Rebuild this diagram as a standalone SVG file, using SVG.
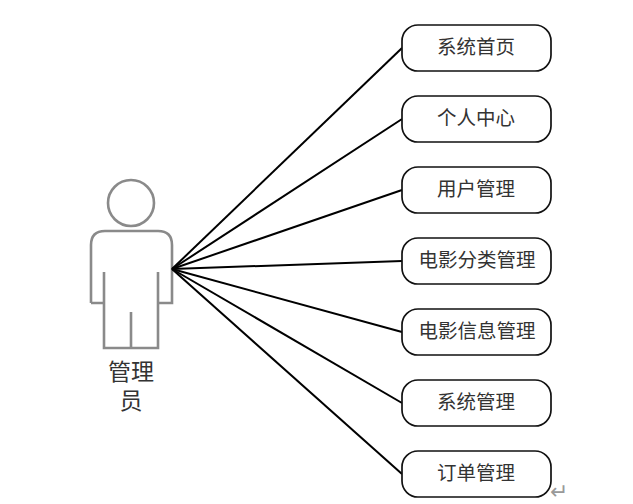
<svg xmlns="http://www.w3.org/2000/svg" width="633" height="504" viewBox="0 0 633 504">
<style>
.n rect{fill:#fff;stroke:#111;stroke-width:1.7}
.n text{font-family:"Liberation Serif","Noto Sans CJK SC",serif;font-size:19.5px;fill:#333;text-anchor:middle}
#connectors line{stroke:#000;stroke-width:2}
#actor path,#actor circle{fill:none;stroke:#8a8a8a;stroke-width:2.6}
#actor text{font-family:"Liberation Serif","Noto Sans CJK SC",serif;font-size:23px;fill:#333;text-anchor:middle}
</style>
<rect width="633" height="504" fill="#fff"/>
<g id="actor">
<circle cx="131" cy="203" r="23"/>
<path d="M91 303V245Q91 231 105 231H158Q172 231 172 245V303H158V272M158 303V348H104V272M104 303H91M131 312V348"/>
<text x="131" y="380">管理<tspan x="131" dy="29">员</tspan></text>
</g>
<g id="connectors">
<line x1="172" y1="269" x2="402" y2="48"/>
<line x1="172" y1="269" x2="402" y2="119"/>
<line x1="172" y1="269" x2="402" y2="190"/>
<line x1="172" y1="269" x2="402" y2="261"/>
<line x1="172" y1="269" x2="402" y2="332"/>
<line x1="172" y1="269" x2="402" y2="403"/>
<line x1="172" y1="269" x2="402" y2="474"/>
</g>
<g id="n1" class="n"><rect x="402" y="25" width="149" height="46" rx="16"/><text x="476" y="54">系统首页</text></g>
<g id="n2" class="n"><rect x="402" y="96" width="149" height="46" rx="16"/><text x="476" y="125">个人中心</text></g>
<g id="n3" class="n"><rect x="402" y="167" width="149" height="46" rx="16"/><text x="476" y="196">用户管理</text></g>
<g id="n4" class="n"><rect x="402" y="238" width="149" height="46" rx="16"/><text x="477" y="267">电影分类管理</text></g>
<g id="n5" class="n"><rect x="402" y="309" width="149" height="46" rx="16"/><text x="477" y="338">电影信息管理</text></g>
<g id="n6" class="n"><rect x="402" y="380" width="149" height="46" rx="16"/><text x="476" y="409">系统管理</text></g>
<g id="n7" class="n"><rect x="402" y="451" width="149" height="46" rx="16"/><text x="476" y="480">订单管理</text></g>
<text x="559" y="499" font-family="DejaVu Sans, sans-serif" font-size="22" fill="#999" text-anchor="middle">↵</text>
</svg>
